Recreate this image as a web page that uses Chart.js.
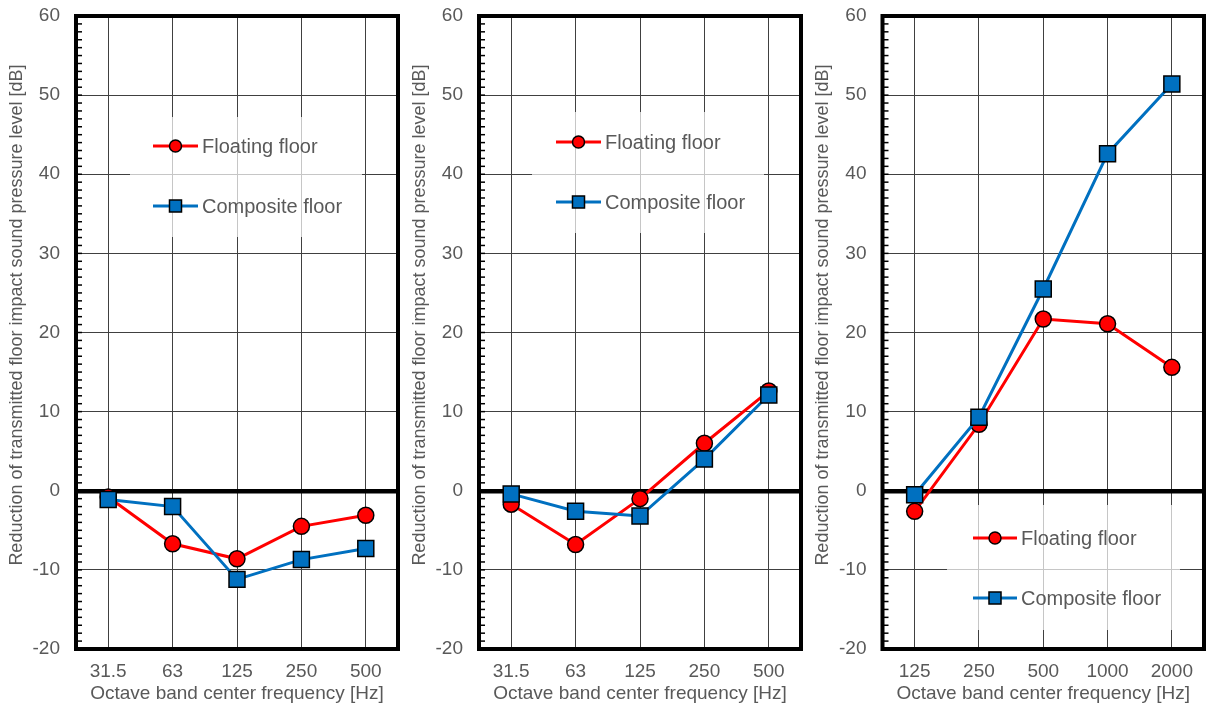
<!DOCTYPE html>
<html>
<head>
<meta charset="utf-8">
<script src="https://cdn.jsdelivr.net/npm/chart.js@4.4.1/dist/chart.umd.min.js"></script>
<style>
  html, body { margin: 0; padding: 0; background: #fff; }
  #wrap { position: relative; width: 1208px; height: 711px; overflow: hidden; }
  canvas { position: absolute; top: 0; }
</style>
</head>
<body>
<div id="wrap">
  <canvas id="c1" width="402" height="711" style="left:0px;width:402px;height:711px"></canvas>
  <canvas id="c2" width="402" height="711" style="left:402px;width:402px;height:711px"></canvas>
  <canvas id="c3" width="404" height="711" style="left:804px;width:404px;height:711px"></canvas>
</div>
<script>
// Octave bands and measured reductions [dB]
const bandsLow = ['31.5', '63', '125', '250', '500'];
const floatingA = [-0.8, -6.7, -8.6, -4.5, -3.1];
const compositeA = [-1.1, -2.0, -11.2, -8.7, -7.3];

const floatingB = [-1.7, -6.8, -1.0, 6.0, 12.6];
const compositeB = [-0.4, -2.6, -3.2, 4.0, 12.1];

const bandsHigh = ['125', '250', '500', '1000', '2000'];
const floatingC = [-2.6, 8.4, 21.7, 21.1, 15.6];
const compositeC = [-0.5, 9.3, 25.5, 42.6, 51.4];

const seriesNames = ['Floating floor', 'Composite floor'];
const yMin = -20, yMax = 60, yStep = 10, yMinorStep = 1;

const yTitle = 'Reduction of transmitted floor impact sound pressure level [dB]';
const xTitle = 'Octave band center frequency [Hz]';

const FONT = '"Liberation Sans", Arial, sans-serif';
const GREY = '#595959';
const RED = '#FF0000';
const BLUE = '#0070C0';

// Frame, minor ticks, in-plot legend and rotated y title
const panelDecor = {
  id: 'panelDecor',
  beforeDatasetsDraw(chart) {
    const { ctx, chartArea: a, scales: { y } } = chart;
    ctx.save();
    ctx.strokeStyle = '#000';
    ctx.lineWidth = 1.5;
    for (let v = yMin; v <= yMax; v += yMinorStep) {
      const py = y.getPixelForValue(v);
      ctx.beginPath();
      ctx.moveTo(a.left, py);
      ctx.lineTo(a.left + 6, py);
      ctx.stroke();
    }
    ctx.lineWidth = 4;
    ctx.strokeRect(a.left, a.top, a.right - a.left, a.bottom - a.top);
    ctx.restore();
  },
  afterDatasetsDraw(chart, args, opts) {
    const { ctx, chartArea: a } = chart;
    const lg = opts.legend;
    ctx.save();
    ctx.fillStyle = 'rgba(255,255,255,0.7)';
    ctx.fillRect(a.left + lg.box[0], a.top + lg.box[1], lg.box[2] - lg.box[0], lg.box[3] - lg.box[1]);
    chart.data.datasets.forEach((ds, i) => {
      const yy = a.top + lg.rows[i];
      ctx.strokeStyle = ds.borderColor;
      ctx.lineWidth = 3;
      ctx.beginPath();
      ctx.moveTo(a.left + lg.line[0], yy);
      ctx.lineTo(a.left + lg.line[1], yy);
      ctx.stroke();
      ctx.fillStyle = ds.backgroundColor;
      ctx.strokeStyle = '#000';
      ctx.lineWidth = 1.5;
      Chart.helpers.drawPoint(ctx, {
        pointStyle: ds.pointStyle,
        radius: ds.pointStyle === 'rect' ? 8.5 : 6,
        rotation: 0,
        borderWidth: 1.5
      }, a.left + (lg.line[0] + lg.line[1]) / 2, yy);
      ctx.fillStyle = GREY;
      ctx.font = '20px ' + FONT;
      ctx.textBaseline = 'middle';
      ctx.textAlign = 'left';
      ctx.fillText(ds.label, a.left + lg.text, yy + 1);
    });
    ctx.restore();
  },
  afterDraw(chart) {
    const { ctx, chartArea: a } = chart;
    ctx.save();
    ctx.translate(a.left - 59, 315);
    ctx.rotate(-Math.PI / 2);
    ctx.fillStyle = GREY;
    ctx.font = '18px ' + FONT;
    ctx.textAlign = 'center';
    ctx.textBaseline = 'middle';
    ctx.fillText(yTitle, 0, 0);
    ctx.restore();
  }
};

function makePanel(id, bands, floating, composite, layout, legend) {
  new Chart(document.getElementById(id), {
    type: 'line',
    data: {
      labels: bands,
      datasets: [
        {
          label: seriesNames[0], data: floating, order: 1,
          borderColor: RED, backgroundColor: RED, borderWidth: 3,
          pointStyle: 'circle', pointRadius: 8, pointHoverRadius: 8,
          pointBorderColor: '#000', pointBorderWidth: 1.5
        },
        {
          label: seriesNames[1], data: composite, order: 0,
          borderColor: BLUE, backgroundColor: BLUE, borderWidth: 3,
          pointStyle: 'rect', pointRadius: 11.3, pointHoverRadius: 11.3,
          pointBorderColor: '#000', pointBorderWidth: 1.5
        }
      ]
    },
    options: {
      responsive: false,
      devicePixelRatio: 1,
      animation: false,
      events: [],
      layout: { autoPadding: false, padding: { left: 0, right: layout.right, top: 16, bottom: 0 } },
      plugins: {
        legend: { display: false },
        tooltip: { enabled: false },
        panelDecor: { legend }
      },
      scales: {
        x: {
          type: 'category',
          offset: true,
          grid: { color: '#404040', lineWidth: 1, drawTicks: false },
          border: { display: false },
          ticks: { color: GREY, font: { family: FONT, size: 19 }, padding: 11, maxRotation: 0, autoSkip: false },
          title: { display: true, text: xTitle, color: GREY, font: { family: FONT, size: 19 }, padding: { top: 0, bottom: 6 } },
          afterFit: s => { s.height = 62; s.paddingLeft = 0; s.paddingRight = 0; }
        },
        y: {
          min: yMin, max: yMax,
          grid: {
            drawTicks: false,
            color: c => (c.tick && c.tick.value === 0 ? '#000' : '#404040'),
            lineWidth: c => (c.tick && c.tick.value === 0 ? 4.5 : 1)
          },
          border: { display: false },
          ticks: { stepSize: yStep, color: GREY, font: { family: FONT, size: 19 }, padding: 16 },
          afterFit: s => { s.width = layout.left; s.paddingTop = 0; s.paddingBottom = 0; }
        }
      }
    },
    plugins: [panelDecor]
  });
}

makePanel('c1', bandsLow, floatingA, compositeA, { left: 76, right: 4 },
  { box: [54, 101, 286, 221], line: [77, 122], text: 126, rows: [130, 190] });
makePanel('c2', bandsLow, floatingB, compositeB, { left: 77, right: 3 },
  { box: [53, 96, 285, 217], line: [77, 122], text: 126, rows: [126, 186] });
makePanel('c3', bandsHigh, floatingC, compositeC, { left: 78.5, right: 4 },
  { box: [64.5, 489, 297.5, 614], line: [90.5, 134.5], text: 138.5, rows: [522, 582] });
</script>
</body>
</html>
